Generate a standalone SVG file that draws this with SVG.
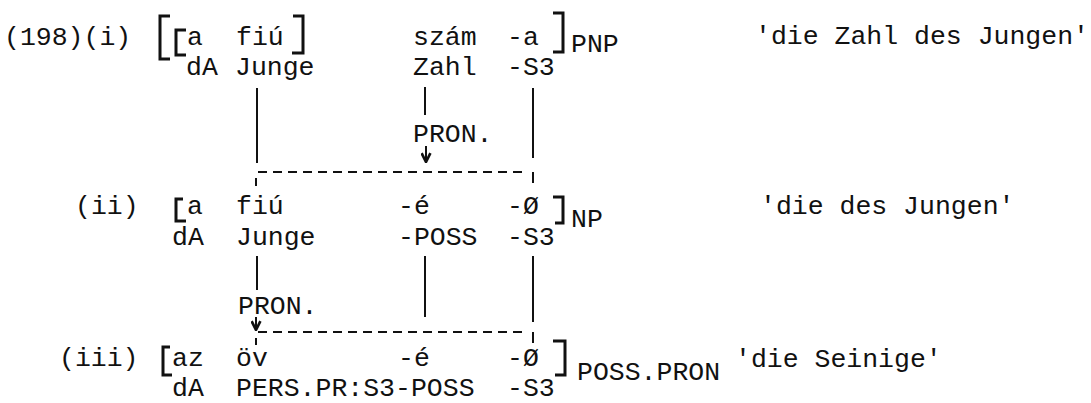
<svg xmlns="http://www.w3.org/2000/svg" width="1091" height="403" viewBox="0 0 1091 403">
<style>
text{font-family:"Liberation Mono","DejaVu Sans Mono",monospace;font-size:26.5px;fill:#111}
.ln{stroke:#111;stroke-width:2;fill:none}
.br{stroke:#111;stroke-width:3;fill:none;stroke-linejoin:miter}
.ds{stroke:#111;stroke-width:2;fill:none;stroke-dasharray:9 6}
</style>
<defs>
<marker id="ah" viewBox="0 0 10 10" refX="9" refY="5" markerWidth="11" markerHeight="11" markerUnits="userSpaceOnUse" orient="auto">
<path d="M1,1 L9,5 L1,9" fill="none" stroke="#111" stroke-width="2.4"/>
</marker>
</defs>
<g id="row1">
<text x="4" y="45">(198)(i)</text>
<path class="br" d="M170,16 H160 V59 H170"/>
<path class="br" d="M186,30 H176 V55 H186"/>
<text x="187" y="45">a</text>
<text x="236" y="45">fiú</text>
<path class="br" d="M293,16 H303 V53 H292"/>
<text x="413" y="45">szám</text>
<text x="507" y="45">-a</text>
<path class="br" d="M553,13 H563 V52 H553"/>
<text x="571" y="52">PNP</text>
<text x="755" y="44">'die Zahl des Jungen'</text>
<text x="186" y="75">dA</text>
<text x="235" y="75">Junge</text>
<text x="413" y="75">Zahl</text>
<text x="507" y="75">-S3</text>
</g>
<g id="row2">
<text x="75" y="214">(ii)</text>
<path class="br" d="M183,199 H176 V221 H186"/>
<text x="187" y="214">a</text>
<text x="236" y="214">fiú</text>
<text x="398" y="214">-é</text>
<text x="507" y="214">-Ø</text>
<path class="br" d="M553,197 H563 V223 H555"/>
<text x="571" y="227">NP</text>
<text x="760" y="214">'die des Jungen'</text>
<text x="172" y="245">dA</text>
<text x="236" y="245">Junge</text>
<text x="398" y="245">-POSS</text>
<text x="507" y="245">-S3</text>
</g>
<g id="row3">
<text x="59" y="366">(iii)</text>
<path class="br" d="M170,347 H163 V375 H172"/>
<text x="172" y="366">az</text>
<text x="236" y="366">öv</text>
<text x="398" y="366">-é</text>
<text x="507" y="366">-Ø</text>
<path class="br" d="M553,341 H565 V375 H555"/>
<text x="577" y="380">POSS.PRON</text>
<text x="735" y="367">'die Seinige'</text>
<text x="172" y="396">dA</text>
<text x="236" y="396">PERS.PR:S3-POSS</text>
<text x="507" y="396">-S3</text>
</g>
<g id="connectors">
<line class="ln" x1="257" y1="88" x2="257" y2="163"/>
<line class="ln" x1="425" y1="87" x2="425" y2="115"/>
<text x="413" y="142">PRON.</text>
<line class="ln" x1="426" y1="146" x2="426" y2="162" marker-end="url(#ah)"/>
<line class="ln" x1="533" y1="88" x2="533" y2="158"/>
<line class="ds" x1="258" y1="172" x2="528" y2="172"/>
<line class="ln" x1="256" y1="178" x2="256" y2="186"/>
<line class="ln" x1="533" y1="172" x2="533" y2="183"/>
<line class="ln" x1="257" y1="256" x2="257" y2="290"/>
<line class="ln" x1="425" y1="256" x2="425" y2="317"/>
<line class="ln" x1="533" y1="256" x2="533" y2="322"/>
<text x="238" y="314">PRON.</text>
<line class="ln" x1="256" y1="317" x2="256" y2="330" marker-end="url(#ah)"/>
<line class="ds" x1="258" y1="332" x2="527" y2="332"/>
<line class="ln" x1="256" y1="338" x2="256" y2="345"/>
<line class="ln" x1="533" y1="332" x2="533" y2="343"/>
</g>
</svg>
